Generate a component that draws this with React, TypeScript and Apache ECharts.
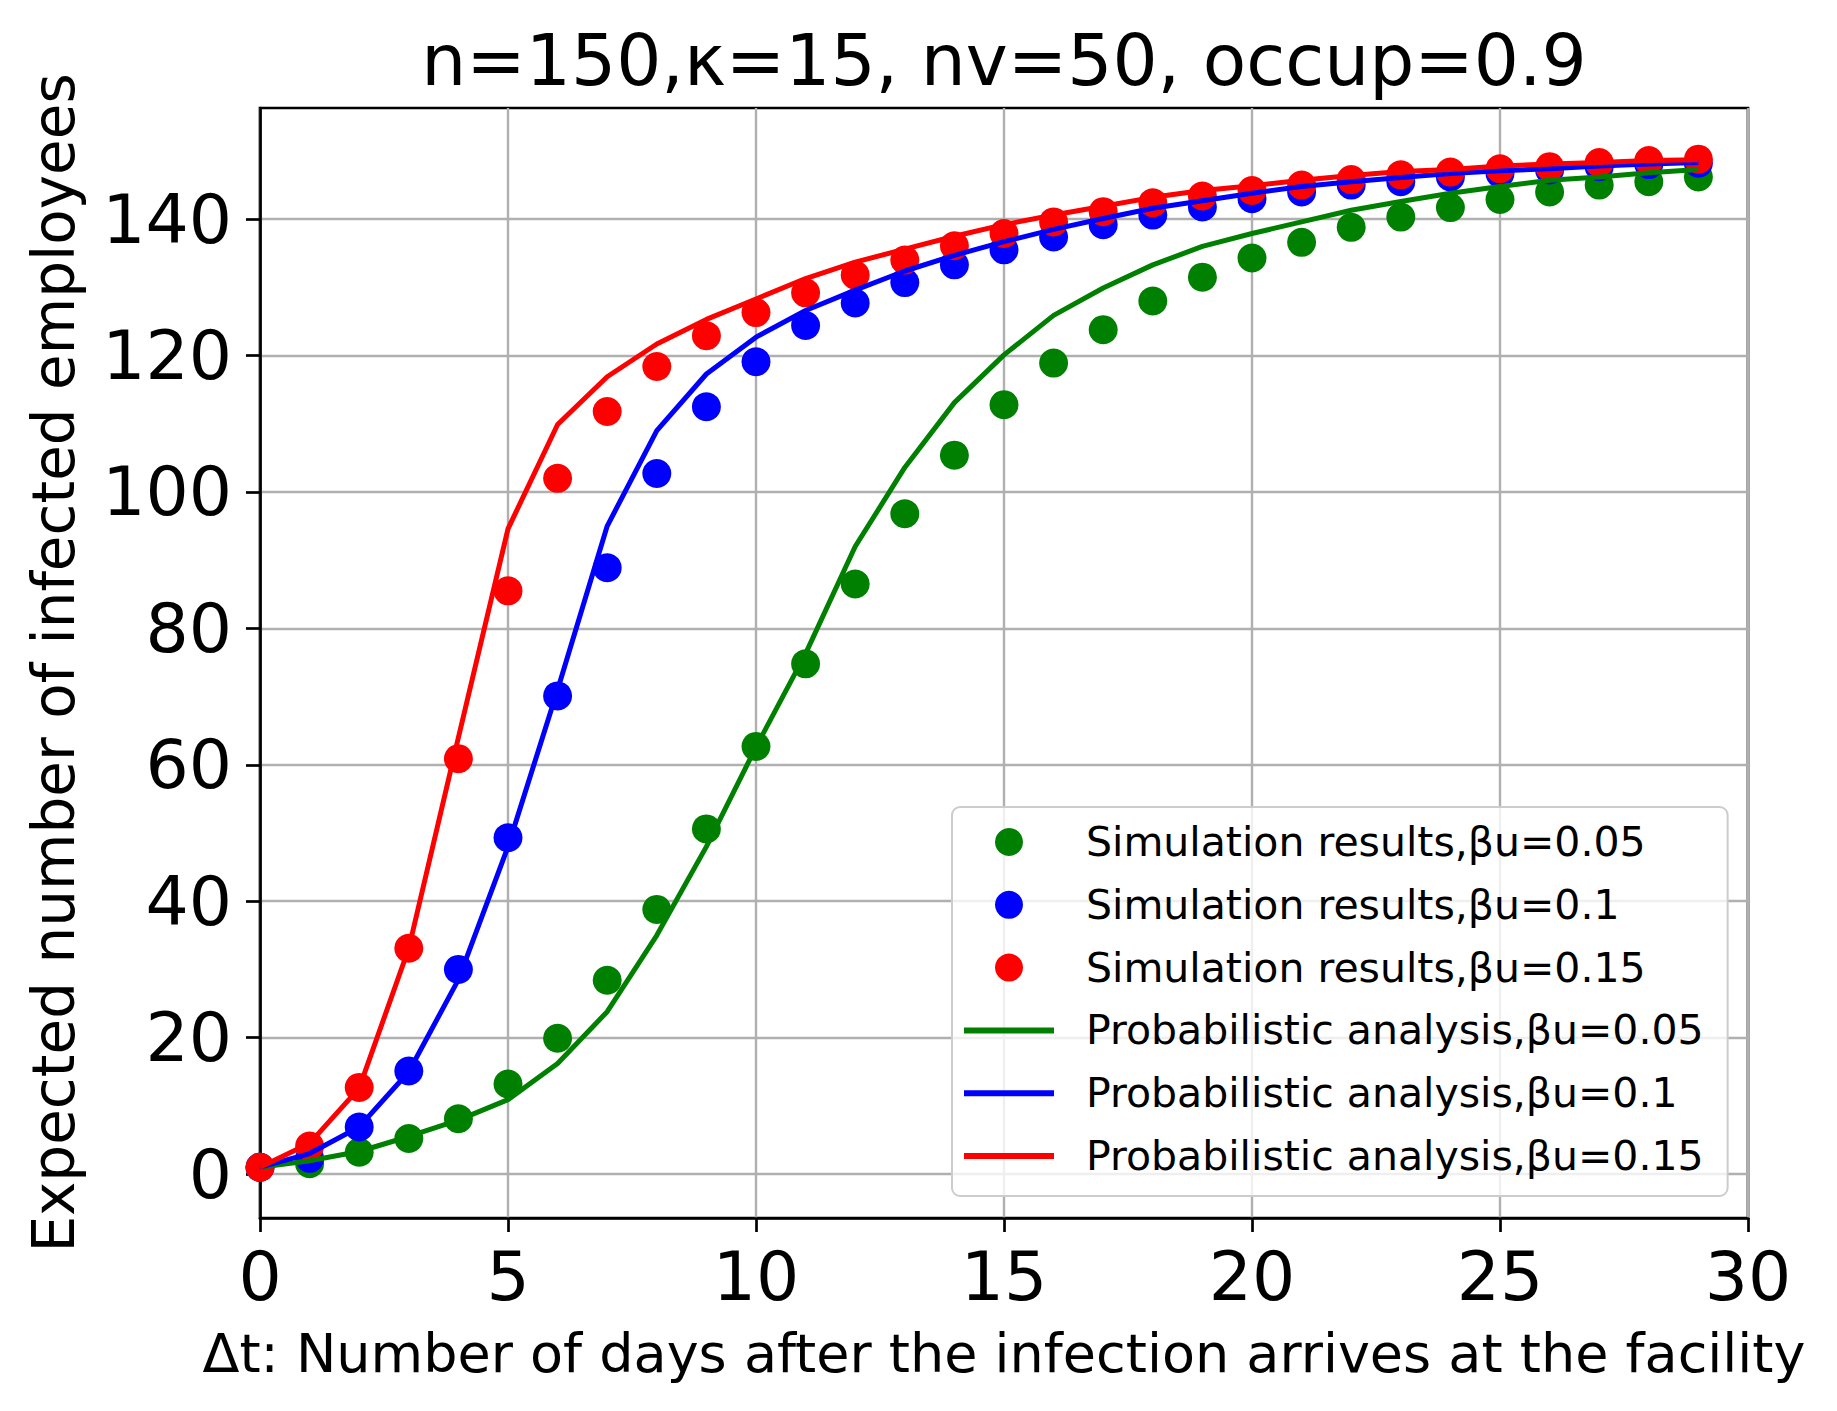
import React, { useEffect, useRef } from "react";
import * as echarts from "echarts";

const titleText = "n=150,κ=15, nv=50, occup=0.9";
const xName = "Δt: Number of days after the infection arrives at the facility";
const yName = "Expected number of infected employees";

const days = [0, 1, 2, 3, 4, 5, 6, 7, 8, 9, 10, 11, 12, 13, 14, 15, 16, 17, 18, 19, 20, 21, 22, 23, 24, 25, 26, 27, 28, 29];

const simGreen = [1, 1.5, 3.2, 5.2, 8.1, 13.2, 19.9, 28.4, 38.8, 50.6, 62.7, 74.8, 86.5, 96.8, 105.4, 112.8, 118.9, 123.8, 128.0, 131.5, 134.3, 136.6, 138.8, 140.3, 141.7, 142.9, 144.0, 145.0, 145.5, 146.2];
const simBlue = [1, 2.3, 6.9, 15.1, 30.0, 49.3, 70.1, 88.9, 102.7, 112.5, 119.1, 124.4, 127.7, 130.7, 133.3, 135.5, 137.4, 139.2, 140.6, 141.8, 143.0, 144.0, 145.0, 145.5, 146.2, 146.7, 147.2, 147.7, 148.0, 148.2];
const simRed = [1, 4.1, 12.7, 33.1, 60.9, 85.5, 102.0, 111.8, 118.4, 122.9, 126.3, 129.2, 131.8, 134.0, 136.1, 137.9, 139.6, 141.1, 142.4, 143.4, 144.2, 145.0, 145.8, 146.5, 146.9, 147.4, 147.7, 148.3, 148.6, 148.8];
const probGreen = [1, 1.95, 3.3, 5.5, 7.9, 10.9, 16.2, 23.8, 35.0, 48.0, 62.6, 76.3, 92.0, 103.6, 113.1, 120.1, 125.9, 129.9, 133.3, 136.0, 137.9, 139.6, 141.3, 142.6, 143.8, 144.8, 145.7, 146.2, 146.8, 147.3];
const probBlue = [1, 3.0, 6.9, 15.0, 28.5, 48.0, 71.0, 95.0, 109.0, 117.3, 122.7, 126.6, 129.6, 132.4, 134.7, 136.7, 138.5, 140.1, 141.6, 142.7, 143.8, 144.8, 145.5, 146.1, 146.7, 147.1, 147.4, 147.8, 148.1, 148.3];
const probRed = [1, 4.5, 12.6, 33.1, 64.0, 94.6, 109.9, 116.9, 121.7, 125.3, 128.3, 131.3, 133.7, 135.6, 137.5, 139.2, 140.6, 141.9, 143.2, 144.2, 144.9, 145.7, 146.4, 147.0, 147.3, 147.8, 148.1, 148.3, 148.6, 148.7];

const yTicks = [0, 20, 40, 60, 80, 100, 120, 140];

const simNames = ["Simulation results,βu=0.05", "Simulation results,βu=0.1", "Simulation results,βu=0.15"];
const probNames = ["Probabilistic analysis,βu=0.05", "Probabilistic analysis,βu=0.1", "Probabilistic analysis,βu=0.15"];
const colors = ["#008000", "#0000ff", "#ff0000"];

const FONT = "DejaVu Sans";

function pairs(ys: number[]) {
  return days.map((d, i) => [d, ys[i]]);
}

export default function App() {
  const ref = useRef<HTMLDivElement>(null);
  useEffect(() => {
    if (!ref.current) return;
    const chart = echarts.init(ref.current, null, { renderer: "svg" });
    const sims = [simGreen, simBlue, simRed];
    const probs = [probGreen, probBlue, probRed];
    const series: any[] = [];
    sims.forEach((s, i) => {
      series.push({
        type: "scatter",
        name: simNames[i],
        data: pairs(s),
        symbol: "circle",
        symbolSize: 29,
        itemStyle: { color: colors[i], opacity: 1 },
        z: 2,
      });
    });
    probs.forEach((s, i) => {
      series.push({
        type: "line",
        name: probNames[i],
        data: pairs(s),
        showSymbol: false,
        symbol: "none",
        lineStyle: { color: colors[i], width: 5 },
        itemStyle: { color: colors[i] },
        z: 3,
      });
    });
    const lineIcon = "path://M0,0H90V6H0Z";
    chart.setOption({
      animation: false,
      backgroundColor: "#ffffff",
      textStyle: { fontFamily: FONT },
      grid: {
        left: 260,
        top: 108,
        width: 1488,
        height: 1110,
        show: true,
        borderColor: "#000",
        borderWidth: 2.7,
        containLabel: false,
        outerBoundsMode: "none",
      },
      graphic: [
        {
          type: "text",
          x: 1004,
          y: 60.4,
          z: 10,
          style: {
            text: titleText,
            fontSize: 71,
            fontFamily: FONT,
            fill: "#000",
            align: "center",
            verticalAlign: "middle",
          },
        },
      ],
      legend: {
        orient: "vertical",
        left: 952,
        top: 807,
        itemWidth: 90,
        itemHeight: 28,
        itemGap: 21.8,
        padding: [14.5, 24, 19.5, 12],
        backgroundColor: "rgba(255,255,255,0.8)",
        borderColor: "#cccccc",
        borderWidth: 2,
        borderRadius: 8,
        selectedMode: false,
        textStyle: {
          fontSize: 41,
          lineHeight: 41,
          color: "#000",
          fontFamily: FONT,
          padding: [0, 0, 0, 27],
        },
        data: [
          { name: simNames[0], icon: "circle" },
          { name: simNames[1], icon: "circle" },
          { name: simNames[2], icon: "circle" },
          { name: probNames[0], icon: lineIcon },
          { name: probNames[1], icon: lineIcon },
          { name: probNames[2], icon: lineIcon },
        ],
      },
      xAxis: {
        type: "value",
        min: 0,
        max: 30,
        interval: 5,
        name: xName,
        nameLocation: "middle",
        nameGap: 108,
        nameTextStyle: { fontSize: 54, lineHeight: 54, color: "#000", fontFamily: FONT },
        axisLine: { show: true, onZero: false, lineStyle: { color: "#000", width: 2.7 } },
        axisTick: { show: true, length: 14, lineStyle: { color: "#000", width: 2.7 } },
        axisLabel: { fontSize: 68, lineHeight: 68, margin: 24, color: "#000", fontFamily: FONT },
        splitLine: { show: true, lineStyle: { color: "#b0b0b0", width: 2.4 } },
      },
      yAxis: {
        type: "value",
        min: -6.45,
        max: 156.3,
        splitNumber: 8,
        name: yName,
        nameLocation: "middle",
        nameRotate: 90,
        nameGap: 177,
        nameTextStyle: { fontSize: 58, lineHeight: 58, color: "#000", fontFamily: FONT },
        axisLine: { show: true, onZero: false, lineStyle: { color: "#000", width: 2.7 } },
        axisTick: { show: true, length: 14, lineStyle: { color: "#000", width: 2.7 }, customValues: yTicks },
        axisLabel: {
          fontSize: 68,
          lineHeight: 68,
          margin: 28,
          color: "#000",
          fontFamily: FONT,
          customValues: yTicks,
        },
        splitLine: { show: true, lineStyle: { color: "#b0b0b0", width: 2.4 } },
      },
      series,
    });
    return () => chart.dispose();
  }, []);
  return (
    <div
      ref={ref}
      style={{ position: "absolute", left: 0, top: 0, width: 1837, height: 1411, background: "#fff" }}
    />
  );
}
